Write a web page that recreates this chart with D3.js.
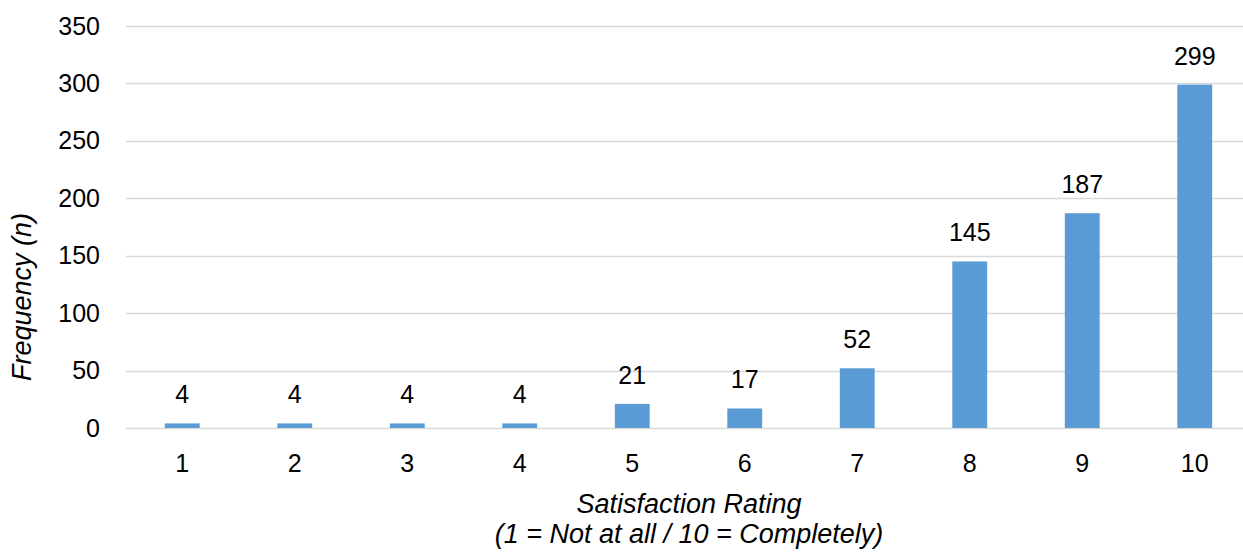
<!DOCTYPE html>
<html>
<head>
<meta charset="utf-8">
<script src="https://cdn.jsdelivr.net/npm/d3@7"></script>
<style>
  html, body { margin: 0; padding: 0; background: #fff; }
  svg { display: block; font-family: "Liberation Sans", Arial, sans-serif; }
  .title { font-style: italic; }
</style>
</head>
<body>
<svg id="chart" width="1243" height="552"></svg>
<script>
// Satisfaction ratings and how many respondents gave each
const ratings = ["1", "2", "3", "4", "5", "6", "7", "8", "9", "10"];
const counts = [4, 4, 4, 4, 21, 17, 52, 145, 187, 299];
const yTicks = [0, 50, 100, 150, 200, 250, 300, 350];

const svg = d3.select("#chart");
const W = 1243, H = 552;
const plot = { left: 126, right: 1251, top: 26, bottom: 428 };
const fontSize = 25;
const titleSize = 27;

const x = d3.scaleBand()
  .domain(ratings)
  .range([plot.left, plot.right])
  .paddingInner(0.69)
  .paddingOuter(0.345);

const y = d3.scaleLinear()
  .domain([0, 350])
  .range([plot.bottom, plot.top]);

// horizontal gridlines
svg.append("g")
  .selectAll("line")
  .data(yTicks)
  .join("line")
  .attr("x1", plot.left)
  .attr("x2", W)
  .attr("y1", d => Math.round(y(d)) + 0.5)
  .attr("y2", d => Math.round(y(d)) + 0.5)
  .attr("stroke", "#d9d9d9")
  .attr("stroke-width", 1.5);

// y tick labels
svg.append("g")
  .selectAll("text")
  .data(yTicks)
  .join("text")
  .attr("x", 100)
  .attr("y", d => y(d) + 8.5)
  .attr("text-anchor", "end")
  .attr("font-size", fontSize)
  .attr("fill", "#000")
  .text(d => d);

// bars
svg.append("g")
  .selectAll("rect")
  .data(counts)
  .join("rect")
  .attr("x", (d, i) => x(ratings[i]))
  .attr("width", x.bandwidth())
  .attr("y", d => y(d))
  .attr("height", d => y(0) - y(d))
  .attr("fill", "#5b9bd5");

// value labels above bars
svg.append("g")
  .selectAll("text")
  .data(counts)
  .join("text")
  .attr("x", (d, i) => x(ratings[i]) + x.bandwidth() / 2)
  .attr("y", d => y(d) - 20)
  .attr("text-anchor", "middle")
  .attr("font-size", fontSize)
  .attr("fill", "#000")
  .text(d => d);

// x tick labels
svg.append("g")
  .selectAll("text")
  .data(ratings)
  .join("text")
  .attr("x", d => x(d) + x.bandwidth() / 2)
  .attr("y", 472)
  .attr("text-anchor", "middle")
  .attr("font-size", fontSize)
  .attr("fill", "#000")
  .text(d => d);

// x axis title (two lines)
const xTitle = svg.append("text")
  .attr("class", "title")
  .attr("text-anchor", "middle")
  .attr("font-size", titleSize)
  .attr("fill", "#000");
xTitle.append("tspan").attr("x", 689).attr("y", 513).text("Satisfaction Rating");
xTitle.append("tspan").attr("x", 689).attr("y", 543).text("(1 = Not at all / 10 = Completely)");

// y axis title
svg.append("text")
  .attr("class", "title")
  .attr("transform", "translate(31,297) rotate(-90)")
  .attr("text-anchor", "middle")
  .attr("font-size", titleSize)
  .attr("fill", "#000")
  .text("Frequency (n)");
</script>
</body>
</html>
